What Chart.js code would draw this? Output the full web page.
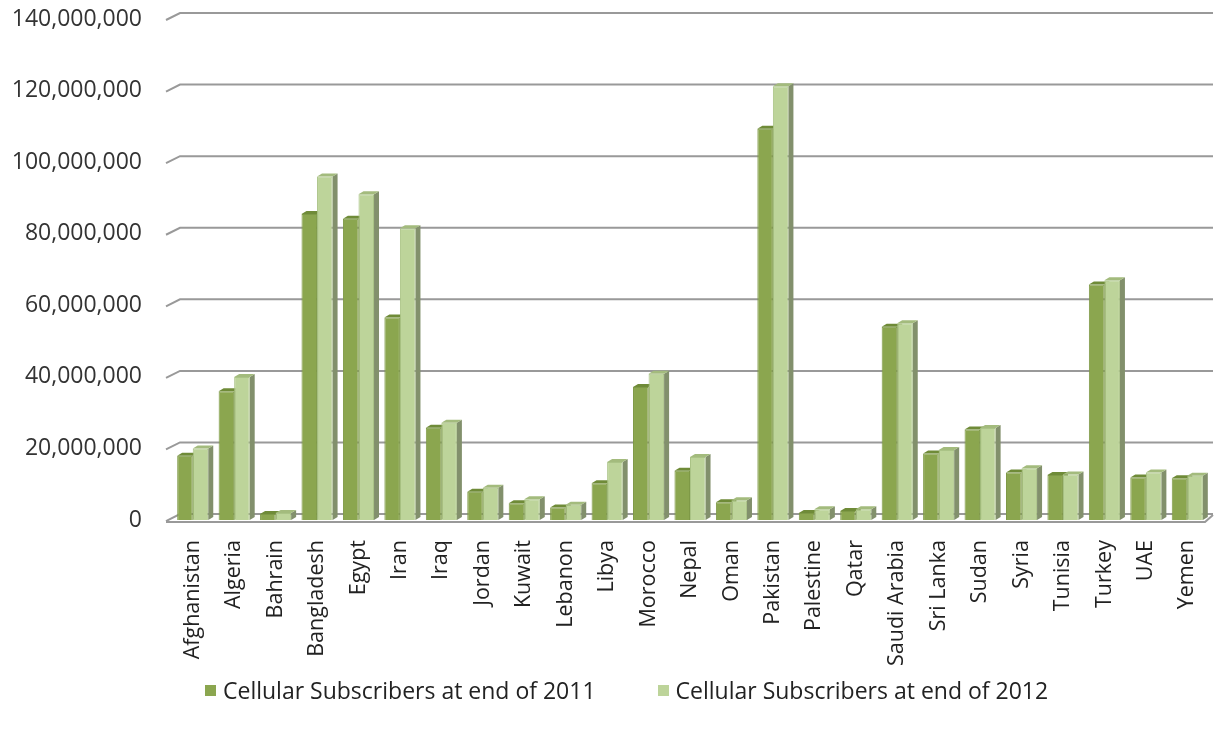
<!DOCTYPE html>
<html lang="en">
<head>
<meta charset="UTF-8" />
<title>Cellular Subscribers 2011 vs 2012</title>
<script src="https://cdn.jsdelivr.net/npm/chart.js"></script>
<style>
  body {
    margin: 0;
    background: #fff;
    font-family: "Open Sans", Arial, sans-serif;
  }
  #wrap {
    position: relative;
    width: 1214px;
    height: 733px;
  }
  #legend {
    position: absolute;
    left: 205px;
    top: 674px;
    display: flex;
    gap: 62px;
    font-size: 23px;
    color: #222;
  }
  #legend .item {
    display: flex;
    align-items: center;
  }
  #legend .box {
    width: 11px;
    height: 11px;
    margin-right: 7px;
  }
</style>
</head>
<body>

<div id="wrap">
  <canvas id="subsChart" width="1214" height="733"></canvas>
  <div id="legend"></div>
</div>

<script>
  const countries = ['Afghanistan', 'Algeria', 'Bahrain', 'Bangladesh', 'Egypt', 'Iran', 'Iraq',
    'Jordan', 'Kuwait', 'Lebanon', 'Libya', 'Morocco', 'Nepal', 'Oman', 'Pakistan', 'Palestine',
    'Qatar', 'Saudi Arabia', 'Sri Lanka', 'Sudan', 'Syria', 'Tunisia', 'Turkey', 'UAE', 'Yemen'];

  const subs2011 = [18000000, 36000000, 1700000, 85500000, 84200000, 56600000, 25800000,
    7900000, 4700000, 3500000, 10300000, 37200000, 13800000, 5000000, 109300000, 2000000,
    2500000, 54000000, 18600000, 25300000, 13300000, 12600000, 65800000, 11900000, 11700000];

  const subs2012 = [20000000, 40000000, 2000000, 96000000, 91000000, 81500000, 27200000,
    9000000, 5800000, 4300000, 16200000, 40900000, 17600000, 5500000, 121200000, 3000000,
    3000000, 55000000, 19600000, 25700000, 14500000, 12700000, 67000000, 13300000, 12400000];

  const yTicks = [0, 20000000, 40000000, 60000000, 80000000, 100000000, 120000000, 140000000];

  const seriesNames = ['Cellular Subscribers at end of 2011', 'Cellular Subscribers at end of 2012'];
  const frontColors = ['#8ba64f', '#bdd49a'];
  const sideColors = ['#6c8538', '#82906c'];
  const topColors = ['#6f8b38', '#a3bb7d'];

  // fake 3D: back wall gridlines, floor edge, bar sides and tops
  const depth3d = {
    id: 'depth3d',
    beforeDatasetsDraw(chart) {
      const ctx = chart.ctx;
      const a = chart.chartArea;
      const y = chart.scales.y;
      const dx = 5, dy = 3;
      ctx.save();

      ctx.strokeStyle = '#999';
      ctx.lineWidth = 2;
      yTicks.forEach(v => {
        const py = y.getPixelForValue(v);
        ctx.beginPath();
        ctx.moveTo(a.left - 6, py + 1);
        ctx.lineTo(a.left + 8, py - 6);
        ctx.lineTo(a.right + 5, py - 6);
        ctx.stroke();
      });
      const y0 = y.getPixelForValue(0);
      ctx.beginPath();
      ctx.moveTo(a.left - 6, y0 + 2);
      ctx.lineTo(a.right - 3, y0 + 2);
      ctx.lineTo(a.right + 5, y0 - 5);
      ctx.stroke();

      chart.data.datasets.forEach((ds, i) => {
        chart.getDatasetMeta(i).data.forEach(bar => {
          const x0 = bar.x - bar.width / 2;
          const x1 = bar.x + bar.width / 2;
          const top = bar.y, base = bar.base;

          ctx.fillStyle = sideColors[i];
          ctx.beginPath();
          ctx.moveTo(x1, top);
          ctx.lineTo(x1 + dx, top - dy);
          ctx.lineTo(x1 + dx, base - dy);
          ctx.lineTo(x1, base);
          ctx.closePath();
          ctx.fill();

          ctx.fillStyle = topColors[i];
          ctx.beginPath();
          ctx.moveTo(x0, top);
          ctx.lineTo(x0 + dx, top - dy);
          ctx.lineTo(x1 + dx, top - dy);
          ctx.lineTo(x1, top);
          ctx.closePath();
          ctx.fill();
        });
      });
      ctx.restore();
    }
  };

  const ctx = document.getElementById('subsChart').getContext('2d');

  new Chart(ctx, {
    type: 'bar',
    data: {
      labels: countries,
      datasets: [
        {
          label: seriesNames[0],
          data: subs2011,
          backgroundColor: frontColors[0],
          borderColor: '#7e9946',
          borderWidth: 1,
          categoryPercentage: 0.75,
          barPercentage: 1.0
        },
        {
          label: seriesNames[1],
          data: subs2012,
          backgroundColor: frontColors[1],
          borderColor: '#aac386',
          borderWidth: 1,
          categoryPercentage: 0.75,
          barPercentage: 1.0
        }
      ]
    },
    options: {
      responsive: false,
      animation: false,
      layout: {
        padding: { top: 19, right: 6, bottom: 47, left: 0 }
      },
      scales: {
        y: {
          min: 0,
          max: 140000000,
          afterFit: scale => {
            scale.width = 172;
            scale.paddingTop = 0;
            scale.paddingBottom = 0;
          },
          afterBuildTicks: scale => { scale.ticks = yTicks.map(v => ({ value: v })); },
          grid: { display: false, drawTicks: false },
          border: { display: false },
          ticks: {
            padding: 30,
            color: '#333',
            font: { family: 'Open Sans', size: 23 },
            callback: v => v.toLocaleString('en-US')
          }
        },
        x: {
          afterFit: scale => {
            scale.paddingLeft = 0;
            scale.paddingRight = 0;
          },
          grid: { display: false, drawTicks: false },
          border: { display: false },
          ticks: {
            padding: 20,
            minRotation: 90,
            maxRotation: 90,
            autoSkip: false,
            color: '#222',
            font: { family: 'Open Sans', size: 21.5 }
          }
        }
      },
      plugins: {
        legend: { display: false },
        tooltip: { enabled: false }
      }
    },
    plugins: [depth3d]
  });

  // legend below the chart
  const legend = document.getElementById('legend');
  seriesNames.forEach((name, i) => {
    const item = document.createElement('div');
    item.className = 'item';
    item.innerHTML = `<span class="box" style="background:${frontColors[i]}"></span>${name}`;
    legend.appendChild(item);
  });
</script>

</body>
</html>
